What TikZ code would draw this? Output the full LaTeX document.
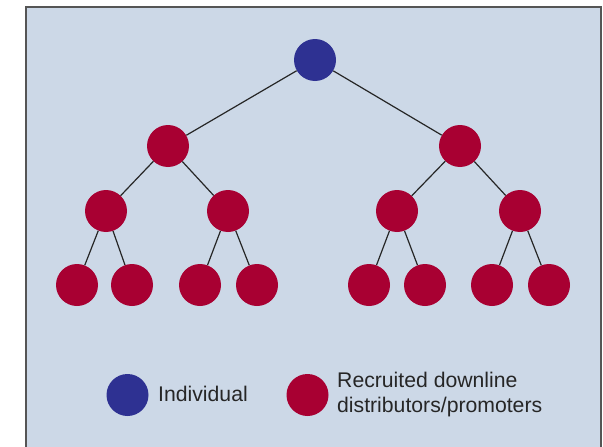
\documentclass[tikz,border=0pt]{standalone}
\usepackage{fontspec}
\setmainfont{Liberation Sans}
\definecolor{bgblue}{HTML}{CCD8E7}
\definecolor{indblue}{HTML}{2E3192}
\definecolor{recred}{HTML}{A80032}
\definecolor{framegray}{HTML}{555555}
\definecolor{edgegray}{HTML}{262626}
\begin{document}
\begin{tikzpicture}[x=1pt,y=-1pt,
  person/.style={circle,minimum size=42pt,inner sep=0pt},
  ind/.style={person,fill=indblue},
  rec/.style={person,fill=recred},
  link/.style={draw=edgegray,line width=1.2pt},
  legendtext/.style={font=\fontsize{21.2}{25}\selectfont,text=black!85,align=left,anchor=west,inner sep=0pt}]
\useasboundingbox (0,0) rectangle (603,447);
\fill[bgblue] (26,6.5) rectangle (601,447);
\draw[framegray,line width=2pt] (26,447) -- (26,6.5) -- (601,6.5) -- (601,447);
% nodes
\node[ind] (n0) at (315,60) {};
\node[rec] (a) at (168,146) {};
\node[rec] (b) at (460,146) {};
\node[rec] (a1) at (106,211) {};
\node[rec] (a2) at (228,211) {};
\node[rec] (b1) at (397,211) {};
\node[rec] (b2) at (520,211) {};
\node[rec] (a11) at (77,285) {};
\node[rec] (a12) at (132,285) {};
\node[rec] (a21) at (200,285) {};
\node[rec] (a22) at (257,285) {};
\node[rec] (b11) at (369,285) {};
\node[rec] (b12) at (425,285) {};
\node[rec] (b21) at (492,285) {};
\node[rec] (b22) at (549,285) {};
% edges
\foreach \p/\c in {n0/a,n0/b,a/a1,a/a2,b/b1,b/b2,a1/a11,a1/a12,a2/a21,a2/a22,b1/b11,b1/b12,b2/b21,b2/b22}
  \draw[link] (\p) -- (\c);
% legend
\node[ind] (lind) at (127.5,395) {};
\node[legendtext] (tind) at (158,394) {Individual};
\node[rec] (lrec) at (307.5,395) {};
\node[legendtext] (trec) at (337,395) {Recruited downline\\distributors/promoters};
\end{tikzpicture}
\end{document}
